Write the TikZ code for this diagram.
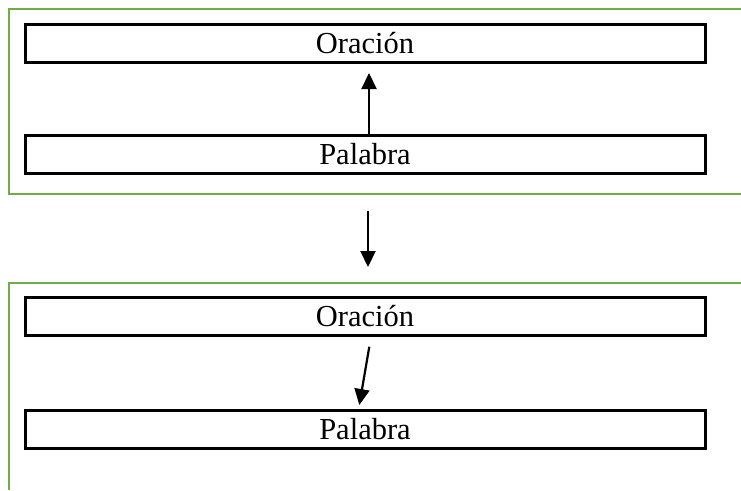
\documentclass[tikz,border=0pt]{standalone}
\usepackage{fontspec}
\setmainfont{Liberation Serif}
\usetikzlibrary{arrows.meta,calc}
\definecolor{framegreen}{RGB}{112,173,71}
\begin{document}
\begin{tikzpicture}[x=1pt,y=-1pt,
  wordbox/.style={draw=black, line width=3pt, minimum width=680pt,
    minimum height=37.5pt, inner sep=0pt, text height=20pt, text depth=0pt,
    font=\fontsize{30.5}{36}\selectfont},
  frameline/.style={draw=framegreen, line width=2pt},
  link/.style={line width=2.2pt, -{Triangle[length=16pt,width=15pt]}}]
\useasboundingbox (0,0) rectangle (741,490);

% green frames (open on the right and at the bottom)
\draw[frameline] (741,9) -- (9,9) -- (9,194) -- (741,194);
\draw[frameline] (741,283.3) -- (9,283.3) -- (9,490);

% upper panel
\node[wordbox] (o1) at (365,43.3) {Oración};
\node[wordbox] (p1) at (365,154.7) {Palabra};

% lower panel
\node[wordbox] (o2) at (365,316.5) {Oración};
\node[wordbox] (p2) at (365,429.5) {Palabra};

% arrow ends
\coordinate (upstart) at (369,134);
\coordinate (uptip) at (369,73);
\coordinate (midstart) at (368,211);
\coordinate (midtip) at (368,267);
\coordinate (downstart) at (369.3,346.7);
\coordinate (downtip) at (359.3,405);

\draw[link] (upstart) -- (uptip);
\draw[link] (midstart) -- (midtip);
\draw[link] (downstart) -- (downtip);
\end{tikzpicture}
\end{document}
